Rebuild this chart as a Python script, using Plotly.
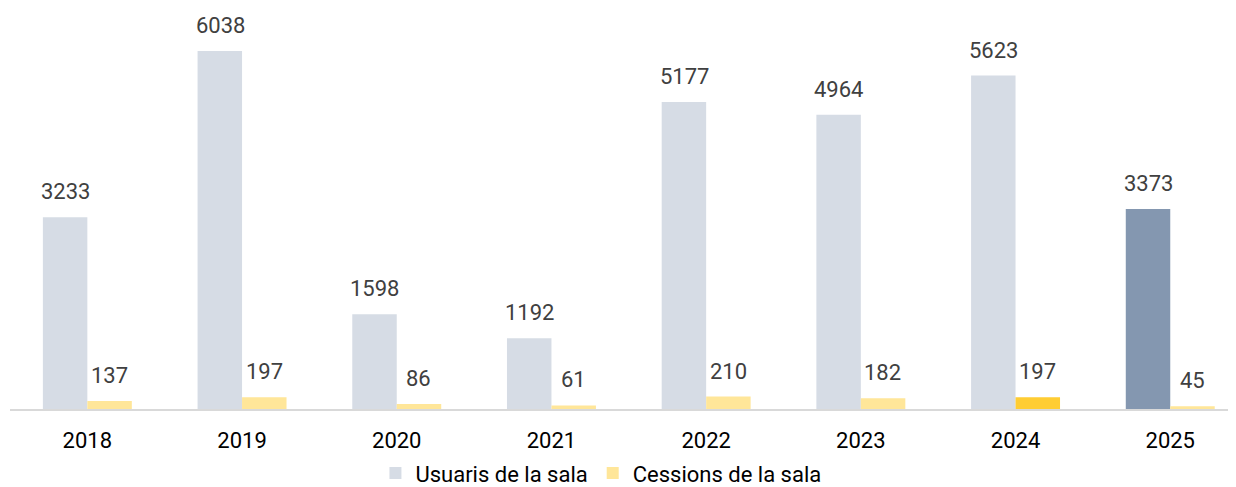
import plotly.graph_objects as go

years = ["2018", "2019", "2020", "2021", "2022", "2023", "2024", "2025"]
usuaris = [3233, 6038, 1598, 1192, 5177, 4964, 5623, 3373]
cessions = [137, 197, 86, 61, 210, 182, 197, 45]

usuaris_colors = ["#d6dce5"] * 7 + ["#8497b0"]
cessions_colors = ["#ffe699"] * 6 + ["#ffcd33", "#ffe699"]

FONT = "Roboto"
LABEL_SIZE = 22

fig = go.Figure()
fig.add_trace(go.Bar(
    x=years, y=usuaris, name="Usuaris de la sala",
    marker=dict(color=usuaris_colors, line=dict(width=0)),
))
fig.add_trace(go.Bar(
    x=years, y=cessions, name="Cessions de la sala",
    marker=dict(color=cessions_colors, line=dict(width=0)),
))

for i, (u, c) in enumerate(zip(usuaris, cessions)):
    fig.add_annotation(x=i, y=u, text=str(u), showarrow=False, xshift=-22, yshift=11,
                       yanchor="bottom", font=dict(size=LABEL_SIZE, color="#404040", family=FONT))
    fig.add_annotation(x=i, y=c, text=str(c), showarrow=False, xshift=22, yshift=11,
                       yanchor="bottom", font=dict(size=LABEL_SIZE, color="#404040", family=FONT))

fig.update_layout(
    width=1228, height=479,
    margin=dict(l=2, r=0, t=0, b=78, autoexpand=False),
    plot_bgcolor="white", paper_bgcolor="white",
    barmode="group", bargap=0.425, bargroupgap=0,
    font=dict(family=FONT, size=22, color="#000000"),
    showlegend=True,
    legend=dict(orientation="h", x=0.482, xanchor="center", yref="container", y=0.029,
                yanchor="middle", font=dict(size=22, color="#000000", family=FONT),
                traceorder="normal"),
    xaxis=dict(type="category", range=[-0.5, 7.425], showgrid=False,
               showline=True, linecolor="#d9d9d9", linewidth=2,
               ticks="", tickfont=dict(size=22, color="#000000"), ticklabelstandoff=11),
    yaxis=dict(range=[0, 6763], visible=False, showgrid=False, zeroline=False),
)
fig.write_html("out.html")
